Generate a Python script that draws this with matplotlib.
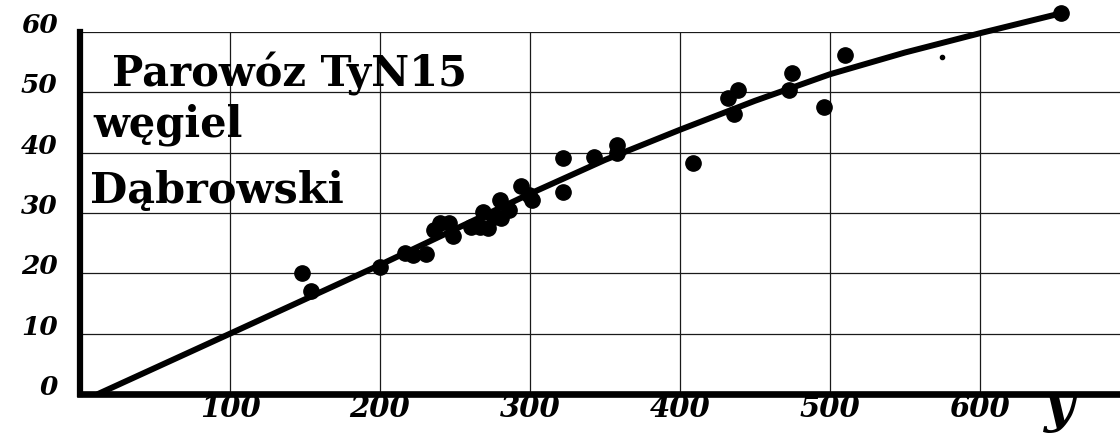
import numpy as np
import matplotlib
matplotlib.use("Agg")
import matplotlib.pyplot as plt
from matplotlib.transforms import ScaledTranslation

# Punkty
x_pts = [148, 154, 200, 217, 222, 231, 236, 240, 246, 249, 261, 267, 269, 272,
         276, 280, 281, 286, 294, 299, 301, 322, 322, 343, 358, 358, 409, 432,
         439, 436, 475, 473, 496, 510, 654]
y_pts = [20.0, 17.0, 21.1, 23.3, 23.0, 23.2, 27.2, 28.3, 28.3, 26.2, 27.7, 27.7,
         30.2, 27.5, 29.3, 32.2, 29.1, 30.5, 34.4, 33.0, 32.2, 39.1, 33.5, 39.2,
         41.3, 39.9, 38.3, 49.0, 50.4, 46.4, 53.2, 50.4, 47.5, 56.2, 63.1]

# maly punkt
x_small = [575]
y_small = [55.8]

# krzywa
x_curve = [12, 100, 200, 300, 350, 400, 450, 500, 550, 600, 654]
y_curve = [0, 10, 21.4, 33.2, 38.8, 43.8, 48.6, 53.0, 56.6, 59.8, 63.1]

xticks = [100, 200, 300, 400, 500, 600]
yticks = [0, 10, 20, 30, 40, 50, 60]

fig = plt.figure(figsize=(11.2, 4.37), dpi=100)
ax = fig.add_axes([80 / 1120, 1 - 394 / 437, 1 - 80 / 1120, (394 - 32) / 437])

ax.set_xlim(0, 1040 / 1.5)
ax.set_ylim(0, 60)

# siatka
ax.set_xticks(xticks)
ax.set_yticks(yticks)
ax.grid(True, color='#1a1a1a', linewidth=0.9)
ax.set_axisbelow(True)

# osie
for s in ['top', 'right']:
    ax.spines[s].set_visible(False)
ax.spines['left'].set_linewidth(4.5)
ax.spines['bottom'].set_linewidth(4.8)
ax.spines['left'].set_capstyle('projecting')
ax.tick_params(length=0)

# krzywa i punkty
ax.plot(x_curve, y_curve, color='black', linewidth=4.3, solid_capstyle='round',
        solid_joinstyle='round', clip_on=False, zorder=3)
ax.plot(x_pts, y_pts, 'o', color='black', markersize=11, clip_on=False, zorder=4)
ax.plot(x_small, y_small, 'o', color='black', markersize=3, zorder=4)

# opisy osi
tick_font = dict(family='DejaVu Serif', style='italic', weight='bold')
ax.set_xticklabels([str(v) for v in xticks], fontsize=21, **tick_font)
ax.set_yticklabels([str(v) for v in yticks], fontsize=19, **tick_font)
ax.tick_params(axis='x', pad=0)
ax.tick_params(axis='y', pad=16)

# etykiety osi Y troche wyzej nad liniami
for lab in ax.get_yticklabels():
    lab.set_transform(lab.get_transform() + ScaledTranslation(0, 0.09, fig.dpi_scale_trans))

ax.set_xlabel('y', fontsize=38, family='DejaVu Serif', style='italic', weight='bold',
              va='baseline', ha='center')
ax.xaxis.set_label_coords(0.942, -0.075)

# napis
title_font = dict(family='DejaVu Serif', weight='bold', color='black')
fig.text(112 / 1120, 1 - 87 / 437, 'Parowóz TyN15', fontsize=30, va='baseline', **title_font)
fig.text(93 / 1120, 1 - 137 / 437, 'węgiel', fontsize=30, va='baseline', **title_font)
fig.text(90 / 1120, 1 - 203 / 437, 'Dąbrowski', fontsize=31, va='baseline', **title_font)

fig.savefig('out.png', dpi=100, facecolor='white')
